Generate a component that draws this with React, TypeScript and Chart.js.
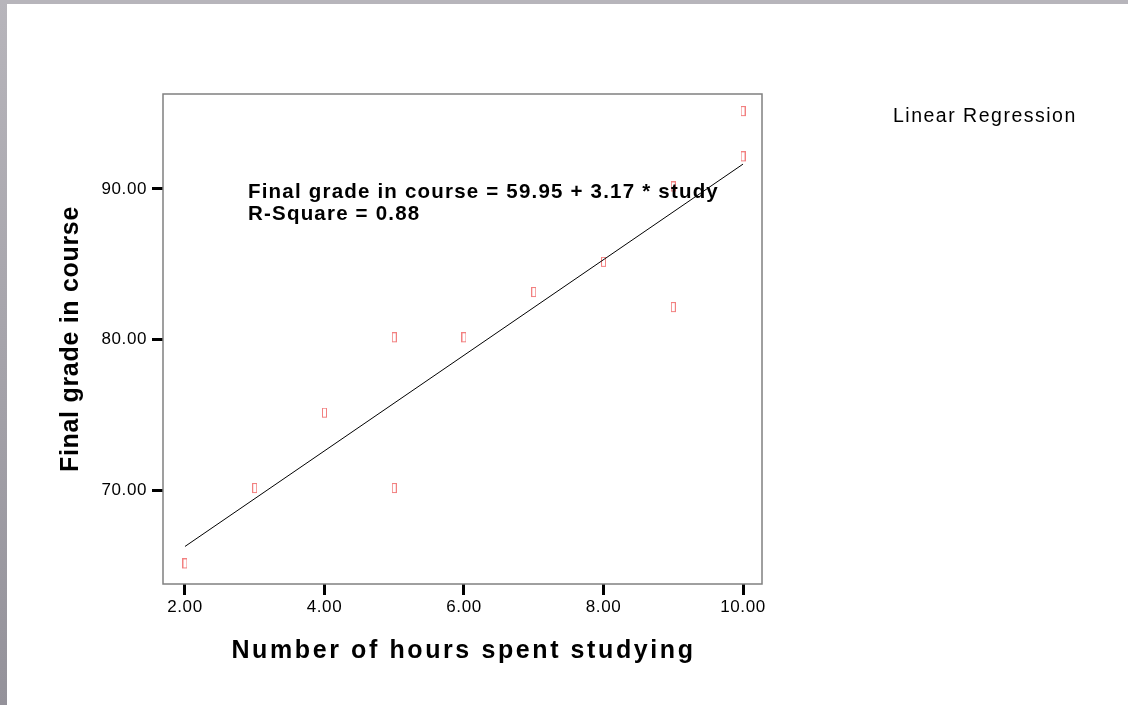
import React, { useEffect, useRef } from 'react';
import { Chart, registerables } from 'chart.js';

Chart.register(...registerables);

// Observations: hours studied and the final grade obtained
const studyHours = [2, 3, 4, 5, 5, 6, 7, 8, 9, 9, 10, 10];
const finalGrades = [65, 70, 75, 70, 80, 80, 83, 85, 82, 90, 92, 95];

// Least-squares fit reported on the chart
const fitIntercept = 59.95;
const fitSlope = 3.17;
const rSquare = 0.88;
const fitFrom = 2;
const fitTo = 10;

// Axis domains and tick values
const xDomain = [1.685, 10.272];
const yDomain = [63.8, 96.3];
const xTickValues = [2, 4, 6, 8, 10];
const yTickValues = [70, 80, 90];

const xTitle = 'Number of hours spent studying';
const yTitle = 'Final grade in course';
const legendLabel = 'Linear Regression';

const FONT = '"Liberation Sans", Arial, Helvetica, sans-serif';

// Small hollow rectangle used as the point marker
function makeMarker(): HTMLCanvasElement {
  const c = document.createElement('canvas');
  c.width = 5;
  c.height = 15;
  const g = c.getContext('2d') as CanvasRenderingContext2D;
  g.strokeStyle = '#f28080';
  g.lineWidth = 1;
  g.strokeRect(0.5, 0.5, 4, 9);
  return c;
}

const decorPlugin = {
  id: 'decor',
  beforeDraw(chart: any) {
    const { ctx, width, height } = chart;
    ctx.save();
    ctx.fillStyle = '#ffffff';
    ctx.fillRect(0, 0, width, height);
    const grad = ctx.createLinearGradient(0, 0, 0, height);
    grad.addColorStop(0, '#b7b5bb');
    grad.addColorStop(1, '#94929a');
    ctx.fillStyle = grad;
    ctx.fillRect(0, 0, 7, height);
    ctx.fillStyle = '#b7b5bb';
    ctx.fillRect(0, 0, width, 4);
    ctx.restore();
    (ctx as any).letterSpacing = '0.6px';
  },
  afterDraw(chart: any) {
    const { ctx, chartArea } = chart;
    const { left, top, right, bottom } = chartArea;
    ctx.save();
    (ctx as any).letterSpacing = '0px';
    // plot frame
    ctx.strokeStyle = '#808080';
    ctx.lineWidth = 1.5;
    ctx.strokeRect(left, top, right - left, bottom - top);

    ctx.fillStyle = '#000';
    // fit equation
    (ctx as any).letterSpacing = '1.2px';
    ctx.font = `bold 20.5px ${FONT}`;
    ctx.textAlign = 'left';
    ctx.textBaseline = 'alphabetic';
    ctx.fillText(`${yTitle} = ${fitIntercept.toFixed(2)} + ${fitSlope.toFixed(2)} * study`, 248, 198);
    ctx.fillText(`R-Square = ${rSquare.toFixed(2)}`, 248, 220);

    // legend text
    (ctx as any).letterSpacing = '1.5px';
    ctx.font = `19.5px ${FONT}`;
    ctx.fillText(legendLabel, 893, 122);

    // axis titles
    ctx.textAlign = 'center';
    ctx.textBaseline = 'middle';
    ctx.font = `bold 25px ${FONT}`;
    (ctx as any).letterSpacing = '2.6px';
    ctx.fillText(xTitle, (left + right) / 2 + 1, 651);
    (ctx as any).letterSpacing = '0.7px';
    ctx.translate(71, (top + bottom) / 2);
    ctx.rotate(-Math.PI / 2);
    ctx.fillText(yTitle, 0, 0);
    ctx.restore();
    (ctx as any).letterSpacing = '0px';
  },
};

export default function App() {
  const canvasRef = useRef<HTMLCanvasElement | null>(null);

  useEffect(() => {
    const canvas = canvasRef.current;
    if (!canvas) return;

    const points = studyHours.map((x, i) => ({ x, y: finalGrades[i] }));
    const fitLine = [fitFrom, fitTo].map((x) => ({ x, y: fitIntercept + fitSlope * x }));

    const tickStyle = {
      color: '#000',
      font: { family: FONT, size: 17 },
      autoSkip: false,
      maxRotation: 0,
      callback: (v: any) => Number(v).toFixed(2),
    };
    const gridStyle = {
      display: true,
      drawOnChartArea: false,
      drawTicks: true,
      tickLength: 11,
      tickWidth: 3,
      tickColor: '#000',
    };

    const chart = new Chart(canvas, {
      type: 'scatter',
      data: {
        datasets: [
          {
            type: 'line',
            data: fitLine,
            borderColor: '#000',
            borderWidth: 1,
            pointRadius: 0,
            fill: false,
            tension: 0,
          } as any,
          {
            data: points,
            pointStyle: makeMarker(),
            pointRadius: 5,
          } as any,
        ],
      },
      options: {
        responsive: false,
        animation: false,
        devicePixelRatio: 1,
        events: [],
        layout: { padding: { left: 0, top: 94, right: 366, bottom: 0 } },
        plugins: {
          legend: { display: false },
          tooltip: { enabled: false },
        },
        scales: {
          x: {
            type: 'linear',
            min: xDomain[0],
            max: xDomain[1],
            border: { display: false },
            grid: gridStyle as any,
            ticks: { ...tickStyle, padding: 2 } as any,
            afterBuildTicks: (s: any) => {
              s.ticks = xTickValues.map((value) => ({ value }));
            },
            afterFit: (s: any) => {
              s.height = 121;
            },
          },
          y: {
            type: 'linear',
            min: yDomain[0],
            max: yDomain[1],
            border: { display: false },
            grid: gridStyle as any,
            ticks: { ...tickStyle, padding: 5 } as any,
            afterBuildTicks: (s: any) => {
              s.ticks = yTickValues.map((value) => ({ value }));
            },
            afterFit: (s: any) => {
              s.width = 163;
            },
          },
        },
      },
      plugins: [decorPlugin],
    });

    return () => chart.destroy();
  }, []);

  return (
    <canvas
      ref={canvasRef}
      width={1128}
      height={705}
      style={{ position: 'fixed', left: 0, top: 0, width: 1128, height: 705 }}
    />
  );
}
